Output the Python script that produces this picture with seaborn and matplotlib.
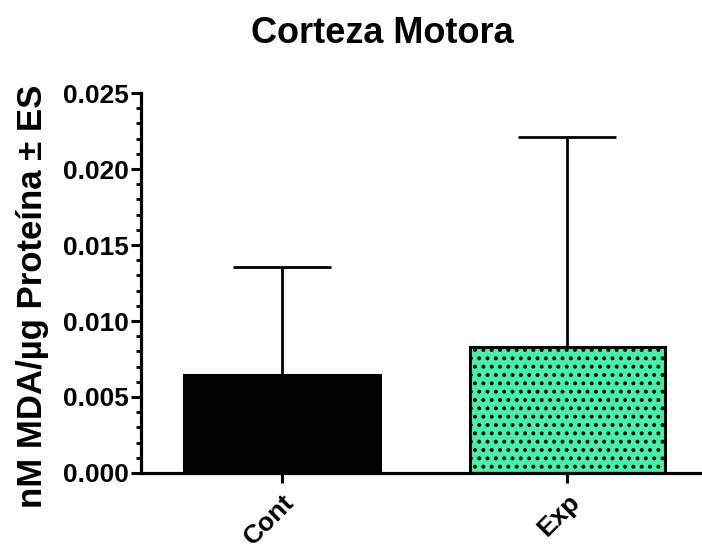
import matplotlib
matplotlib.use("Agg")
import matplotlib.pyplot as plt
from matplotlib.ticker import MultipleLocator, FormatStrFormatter
import seaborn as sns
import pandas as pd

groups = ["Cont", "Exp"]
means = [0.00645, 0.00829]
ses = [0.0071, 0.0138]
colors = ["#000000", "#44F0AA"]
hatches = ["", ".."]

title = "Corteza Motora"
ylabel = "nM MDA/µg Proteína ± ES"

sns.set_style("ticks")
plt.rcParams["font.family"] = ["Liberation Sans", "DejaVu Sans"]
plt.rcParams["hatch.linewidth"] = 1.6

df = pd.DataFrame({"group": groups, "mean": means})

fig = plt.figure(figsize=(7.02, 5.54), dpi=100)
ax = fig.add_axes([141 / 702, 1 - 473 / 554, 1 - 141 / 702, (473 - 93) / 554])

sns.barplot(data=df, x="group", y="mean", hue="group", palette=colors,
            width=0.687, errorbar=None, legend=False, ax=ax,
            edgecolor="black", linewidth=2.2, saturation=1)
for patch, h in zip(ax.patches, hatches):
    patch.set_hatch(h)

ax.errorbar(range(len(groups)), means, yerr=[[0] * len(ses), ses], fmt="none",
            ecolor="black", elinewidth=2.0, capsize=35, capthick=2.0, zorder=1)

ax.set_xlim(-0.496, 1.472)
ax.set_ylim(0, 0.025)
ax.yaxis.set_major_locator(MultipleLocator(0.005))
ax.yaxis.set_minor_locator(MultipleLocator(0.001))
ax.yaxis.set_major_formatter(FormatStrFormatter("%.3f"))

for s in ["top", "right"]:
    ax.spines[s].set_visible(False)
for s in ["left", "bottom"]:
    ax.spines[s].set_linewidth(2.3)
    ax.spines[s].set_color("black")

ax.tick_params(axis="y", which="major", length=7, width=2.2, labelsize=19, pad=2, colors="black")
ax.tick_params(axis="y", which="minor", length=3.5, width=2.0, colors="black")
ax.tick_params(axis="x", which="major", length=7, width=2.2, labelsize=19, pad=5, colors="black")
for lab in ax.get_yticklabels():
    lab.set_fontweight("bold")
for lab in ax.get_xticklabels():
    lab.set_fontweight("bold")
    lab.set_rotation(45)
    lab.set_ha("right")
    lab.set_rotation_mode("anchor")

ax.set_xlabel("")
ax.set_ylabel("")

fig.text(382 / 702, 1 - 43 / 554, title, ha="center", va="baseline",
         fontsize=26, fontweight="bold", color="black")
fig.text(33 / 702, 1 - 296 / 554, ylabel, ha="center", va="center",
         rotation=90, fontsize=25, fontweight="bold", color="black")

fig.savefig("out.png", dpi=100)
